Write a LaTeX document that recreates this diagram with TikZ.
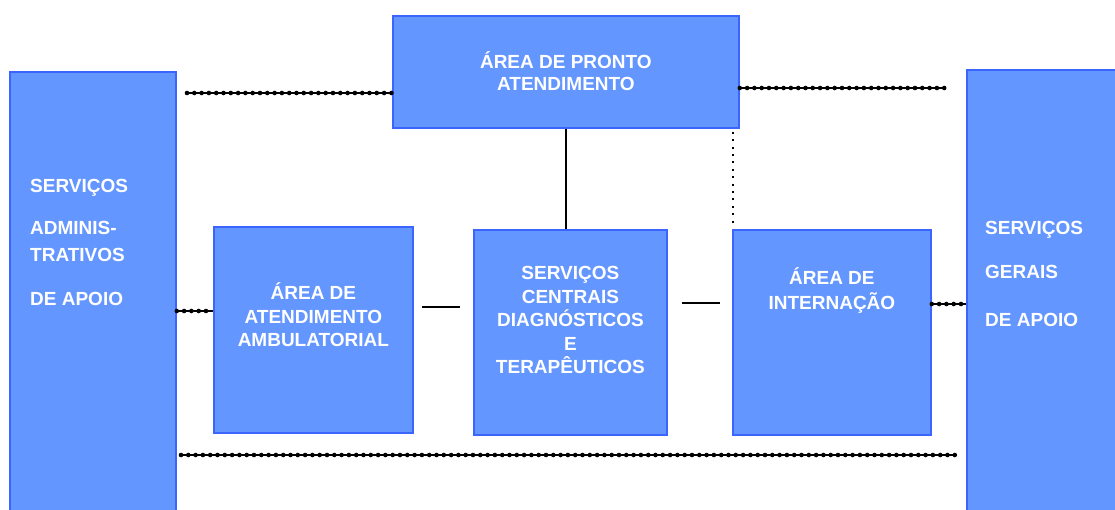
\documentclass[tikz,border=0pt]{standalone}
\usepackage{fontspec}
\setmainfont{Liberation Sans}
\usetikzlibrary{positioning}
\definecolor{boxfill}{RGB}{100,150,255}
\definecolor{boxline}{RGB}{60,100,255}

\begin{document}
\begin{tikzpicture}[x=1pt,y=-1pt,
box/.style={draw=boxline,fill=boxfill,line width=1.8pt,rectangle,inner sep=0pt,anchor=north west},
txt/.style={text=white,font=\bfseries\fontsize{19}{23.5}\selectfont,align=center,inner sep=0pt},
beadline/.style={line width=4.6pt,line cap=round,dash pattern=on 0pt off 7.3pt,
  postaction={draw,solid,line cap=butt,line width=2.6pt}},
link/.style={line width=1.5pt}]
\useasboundingbox (0,0) rectangle (1115,509);
\clip (0,0) rectangle (1115,509);

\node (adm) [box,minimum width=166pt,minimum height=460pt] at (9,71) {};
\node (ger) [box,minimum width=170pt,minimum height=460pt] at (966,69) {};
\node (pronto) [box,minimum width=346pt,minimum height=112pt] at (392,15) {};
\node (amb) [box,minimum width=199pt,minimum height=206pt] at (213,226) {};
\node (cen) [box,minimum width=193pt,minimum height=205pt] at (473,229) {};
\node (intern) [box,minimum width=198pt,minimum height=205pt] at (732,229) {};

\node (admtxt) [txt,align=left,anchor=north west] at (30,179)
  {SERVIÇOS\\[19pt]ADMINIS-\\[3pt]TRATIVOS\\[21pt]DE APOIO};
\node (gertxt) [txt,align=left,anchor=north west] at (985,221)
  {SERVIÇOS\\[21pt]GERAIS\\[24pt]DE APOIO};
\node (prontotxt) [txt,font=\bfseries\fontsize{19}{22}\selectfont] at ([yshift=1pt]pronto.center)
  {ÁREA DE PRONTO\\ATENDIMENTO};
\node (ambtxt) [txt] at ([yshift=15pt]amb.center)
  {ÁREA DE\\ATENDIMENTO\\AMBULATORIAL};
\node (centxt) [txt] at ([yshift=12pt]cen.center)
  {SERVIÇOS\\CENTRAIS\\DIAGNÓSTICOS\\E\\TERAPÊUTICOS};
\node (inttxt) [txt,font=\bfseries\fontsize{19}{25}\selectfont] at ([yshift=42pt]intern.center)
  {ÁREA DE\\INTERNAÇÃO};

\coordinate (tl) at (187,93);
\coordinate (tr) at (946,88);
\coordinate (bl) at (181,455);
\coordinate (br) at (955,455);

\draw[beadline] (tl) -- (pronto.west |- tl);
\draw[beadline] (pronto.east |- tr) -- (tr);
\draw[beadline] (adm.east |- 0,311) -- (amb.west |- 0,311);
\draw[beadline] (intern.east |- 0,304) -- (ger.west |- 0,304);
\draw[beadline] (bl) -- (br);

\draw[link] (pronto.south) -- (pronto.south |- cen.north);
\draw[link,shorten <=8pt,shorten >=13pt] (amb.east |- 0,307) -- (cen.west |- 0,307);
\draw[link,shorten <=14pt,shorten >=12pt] (cen.east |- 0,303) -- (intern.west |- 0,303);
\draw[line width=2pt,dash pattern=on 2pt off 5.4pt,shorten <=3pt,shorten >=3pt]
  ([xshift=1pt]intern.north west |- pronto.south) -- ([xshift=1pt]intern.north west);
\end{tikzpicture}
\end{document}
